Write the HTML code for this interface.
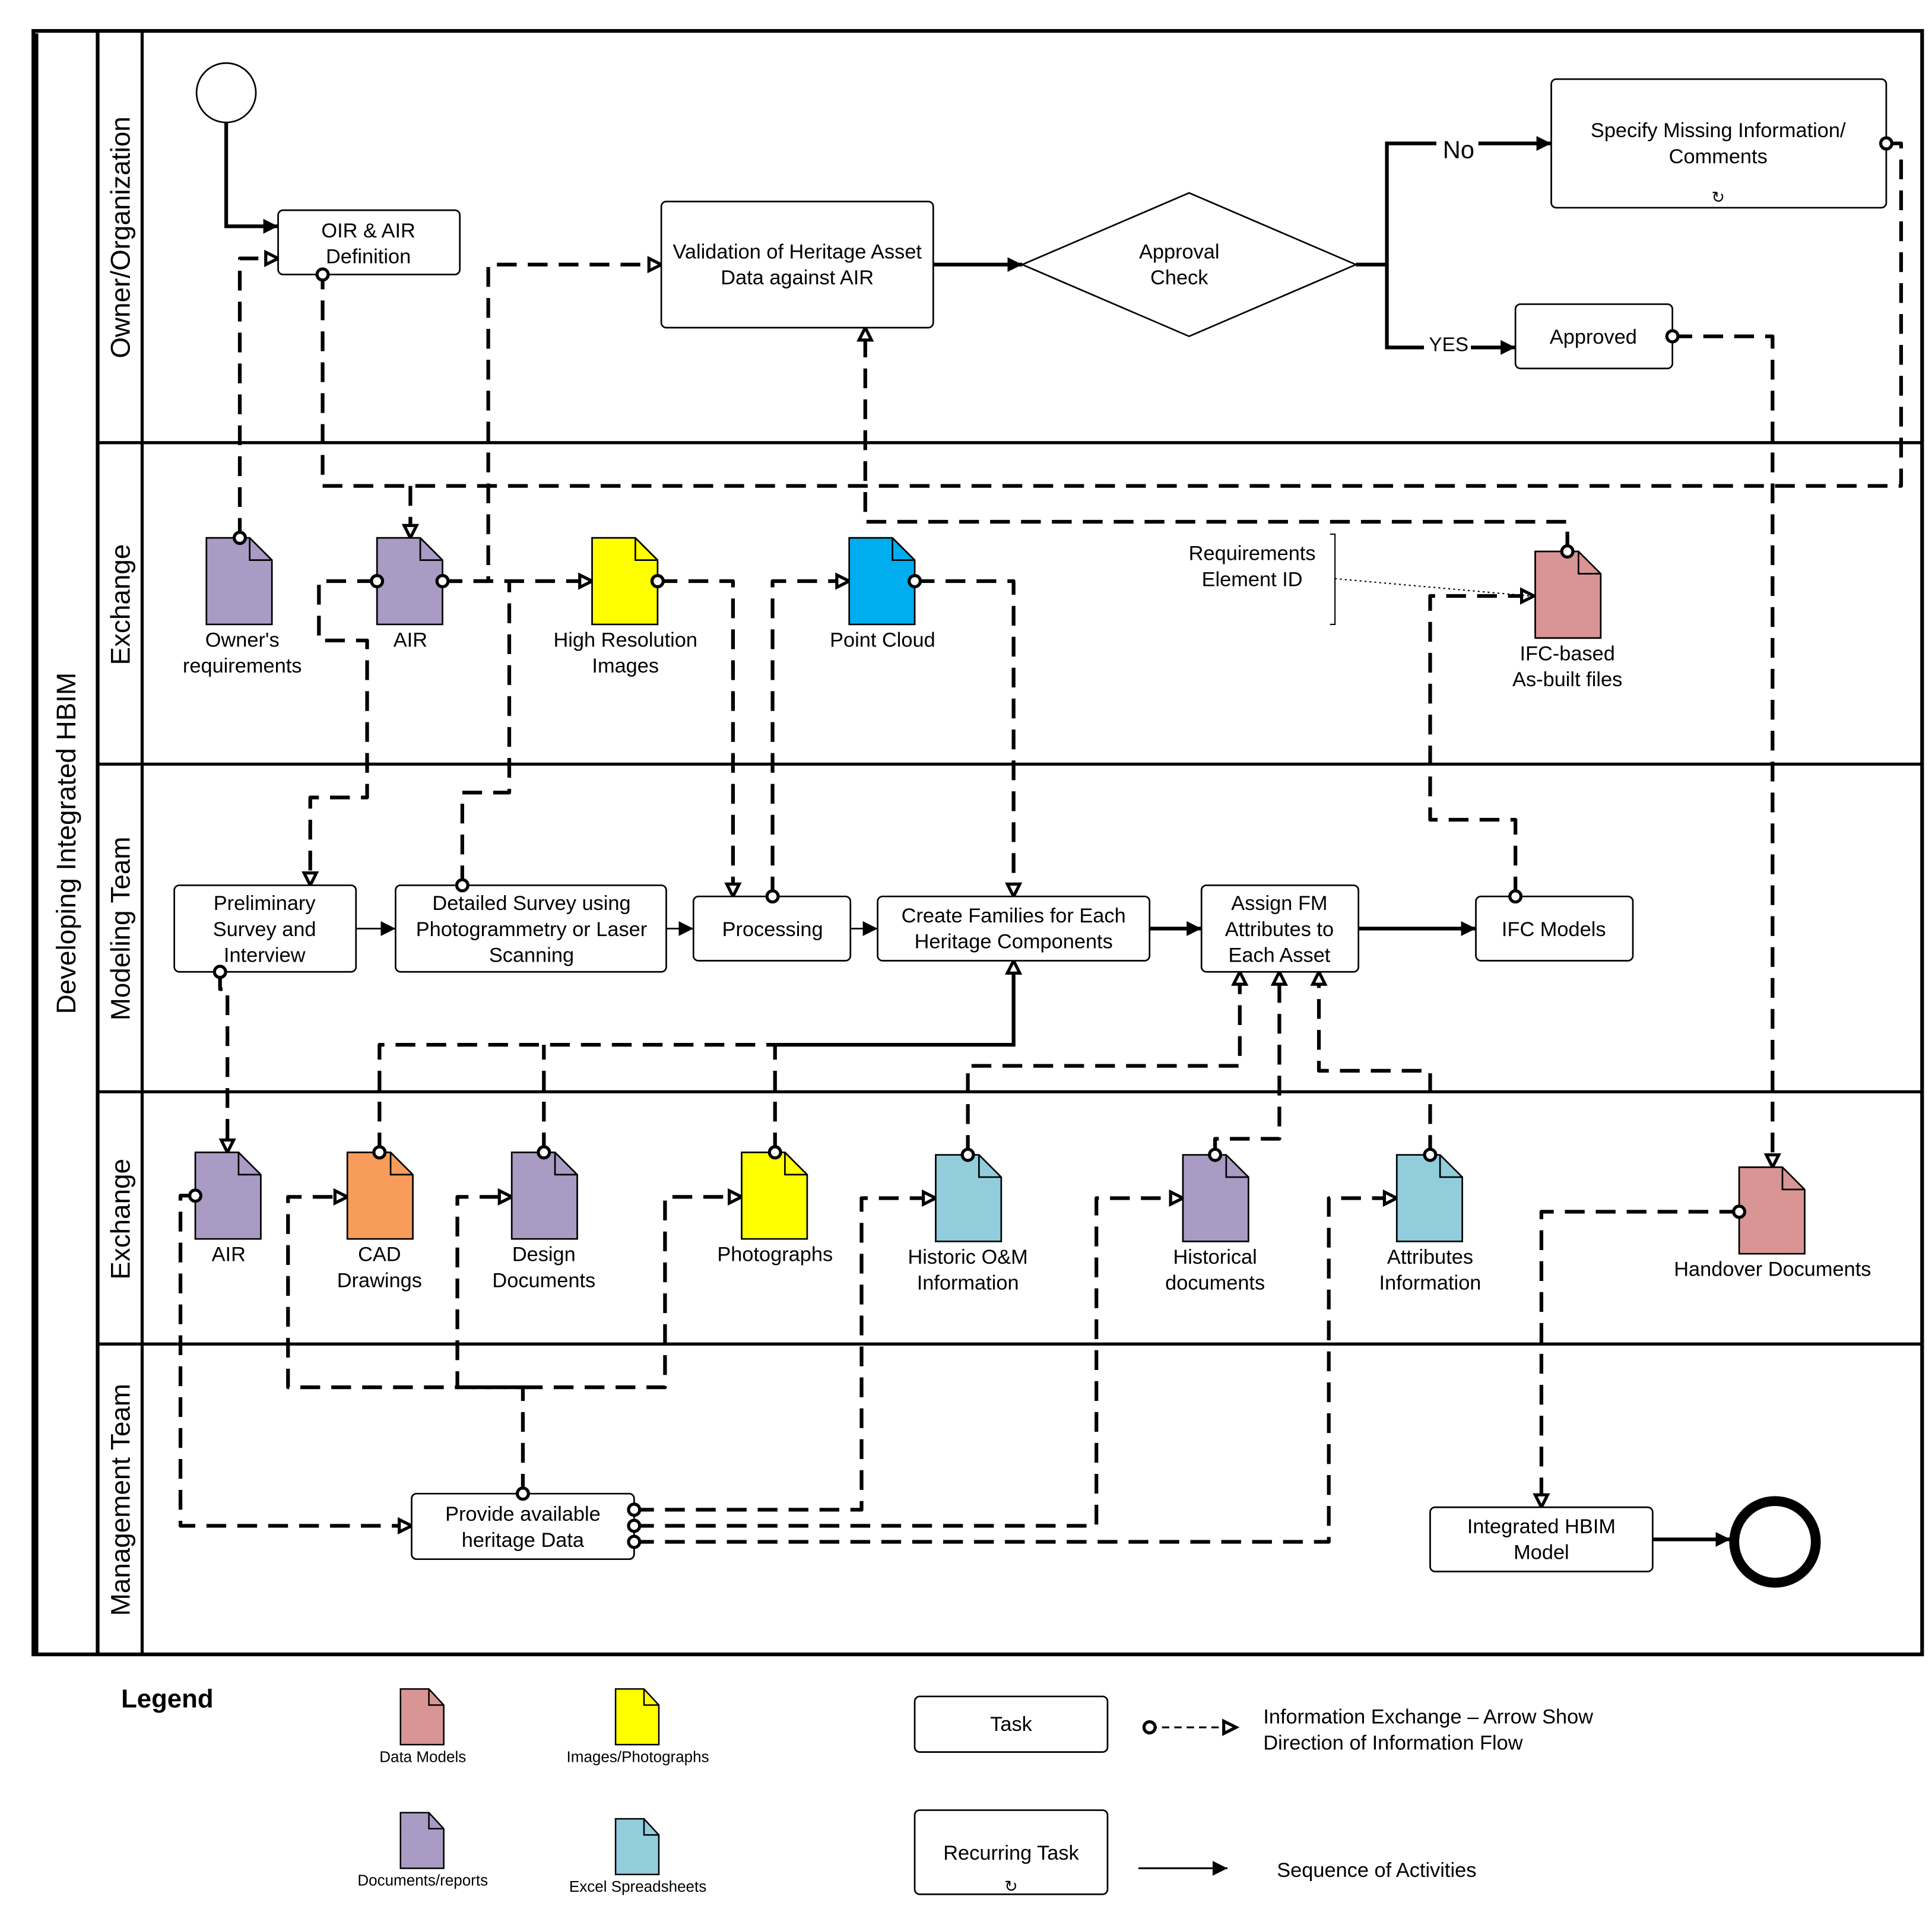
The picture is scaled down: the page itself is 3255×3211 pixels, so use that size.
<!DOCTYPE html>
<html><head><meta charset="utf-8">
<style>
html,body{margin:0;padding:0;background:#fff;}
svg{display:block;}
text{font-family:"Liberation Sans",Arial,sans-serif;fill:#000;}
</style></head>
<body>
<svg width="3255" height="3211" viewBox="0 0 1563 1541.5" preserveAspectRatio="none" xmlns="http://www.w3.org/2000/svg">
<defs>
<marker id="tri" markerUnits="userSpaceOnUse" markerWidth="16" markerHeight="16" refX="12" refY="7" orient="auto">
<path d="M2,2 L12,7 L2,12 Z" fill="#fff" stroke="#000" stroke-width="2.5"/>
</marker>
<marker id="arr" markerUnits="userSpaceOnUse" markerWidth="16" markerHeight="16" refX="12" refY="6" orient="auto">
<path d="M0,0 L12,6 L0,12 Z" fill="#000"/>
</marker>
<marker id="dot" markerUnits="userSpaceOnUse" markerWidth="14" markerHeight="14" refX="7" refY="7" orient="auto">
<circle cx="7" cy="7" r="4.5" fill="#fff" stroke="#000" stroke-width="2.5"/>
</marker>
<g id="doc"><path d="M0,0 H35 L53,18 V70 H0 Z" stroke="#000" stroke-width="1.3"/><path d="M35,0 V18 H53" fill="none" stroke="#000" stroke-width="1.3"/></g>
<g id="sdoc"><path d="M0,0 H23 L35,13 V45 H0 Z" stroke="#000" stroke-width="1.2"/><path d="M23,0 V13 H35" fill="none" stroke="#000" stroke-width="1.2"/></g>
</defs>

<!-- pool & lanes -->
<g fill="none" stroke="#000">
<rect x="27" y="25" width="1528" height="1313" stroke-width="3"/>
<line x1="79" y1="25" x2="79" y2="1338" stroke-width="3"/>
<line x1="115" y1="25" x2="115" y2="1338" stroke-width="2.5"/>
<line x1="79" y1="358" x2="1555" y2="358" stroke-width="2.5"/>
<line x1="79" y1="618" x2="1555" y2="618" stroke-width="2.5"/>
<line x1="79" y1="883" x2="1555" y2="883" stroke-width="2.5"/>
<line x1="79" y1="1087" x2="1555" y2="1087" stroke-width="2.5"/>
<line x1="29" y1="27" x2="29" y2="1338" stroke-width="4"/>
</g>
<g font-size="22">
<text transform="translate(61,682) rotate(-90)" text-anchor="middle">Developing Integrated HBIM</text>
<text transform="translate(105,192) rotate(-90)" text-anchor="middle">Owner/Organization</text>
<text transform="translate(105,489) rotate(-90)" text-anchor="middle">Exchange</text>
<text transform="translate(105,751) rotate(-90)" text-anchor="middle">Modeling Team</text>
<text transform="translate(105,986) rotate(-90)" text-anchor="middle">Exchange</text>
<text transform="translate(105,1213) rotate(-90)" text-anchor="middle">Management Team</text>
</g>

<!-- dashed connectors -->
<g fill="none" stroke="#000" stroke-width="3" stroke-dasharray="16 9" stroke-linejoin="round">
<path d="M194,435 V209 H225" marker-start="url(#dot)" marker-end="url(#tri)"/>
<path d="M1526,116 H1538 V393 H261 V222" marker-start="url(#dot)" marker-end="url(#dot)"/>
<path d="M332,393 V435" marker-end="url(#tri)"/>
<path d="M358,470 H395 V214 H535" marker-start="url(#dot)" marker-end="url(#tri)"/>
<path d="M358,470 H479" marker-end="url(#tri)"/>
<path d="M305,470 H258 V518 H297 V645 H251 V716" marker-start="url(#dot)" marker-end="url(#tri)"/>
<path d="M374,716 V641 H412 V470" marker-start="url(#dot)"/>
<path d="M532,470 H593 V725" marker-start="url(#dot)" marker-end="url(#tri)"/>
<path d="M625,725 V470 H687" marker-start="url(#dot)" marker-end="url(#tri)"/>
<path d="M740,470 H820 V725" marker-start="url(#dot)" marker-end="url(#tri)"/>
<path d="M1268,446 V422 H700 V265" marker-start="url(#dot)" marker-end="url(#tri)"/>
<path d="M1226,725 V663 H1157 V482 H1241" marker-start="url(#dot)" marker-end="url(#tri)"/>
<path d="M1353,272 H1434 V944" marker-start="url(#dot)" marker-end="url(#tri)"/>
<path d="M178,786 V800 H184 V932" marker-start="url(#dot)" marker-end="url(#tri)"/>
<path d="M307,932 V845 H628" marker-start="url(#dot)"/>
<path d="M440,932 V845" marker-start="url(#dot)"/>
<path d="M627,932 V845" marker-start="url(#dot)"/>
<path d="M783,934 V862 H1003 V786" marker-start="url(#dot)" marker-end="url(#tri)"/>
<path d="M983,934 V921 H1035 V786" marker-start="url(#dot)" marker-end="url(#tri)"/>
<path d="M1157,934 V866 H1067 V786" marker-start="url(#dot)" marker-end="url(#tri)"/>
<path d="M158,967 H146 V1234 H333" marker-start="url(#dot)" marker-end="url(#tri)"/>
<path d="M423,1208 V1122 H233 V968 H281" marker-start="url(#dot)" marker-end="url(#tri)"/>
<path d="M423,1122 H370 V968 H414" marker-end="url(#tri)"/>
<path d="M423,1122 H538 V968 H600" marker-end="url(#tri)"/>
<path d="M513,1221 H697 V969 H757" marker-start="url(#dot)" marker-end="url(#tri)"/>
<path d="M513,1234 H887 V969 H957" marker-start="url(#dot)" marker-end="url(#tri)"/>
<path d="M513,1247 H1075 V969 H1130" marker-start="url(#dot)" marker-end="url(#tri)"/>
<path d="M1407,980 H1247 V1219" marker-start="url(#dot)" marker-end="url(#tri)"/>
</g>
<path d="M628,845 H820 V777" fill="none" stroke="#000" stroke-width="3" marker-end="url(#tri)"/>
<line x1="1080" y1="468" x2="1238" y2="482" stroke="#000" stroke-width="1" stroke-dasharray="1.5 2.5"/>

<!-- solid flow -->
<g fill="none" stroke="#000" stroke-width="3">
<path d="M183,99 V183 H225" marker-end="url(#arr)"/>
<path d="M755,214 H827" marker-end="url(#arr)"/>
<path d="M1097,214 H1122 V116 H1255" marker-end="url(#arr)"/>
<path d="M1122,214 V281 H1226" marker-end="url(#arr)"/>
<path d="M930,751 H972" marker-end="url(#arr)"/>
<path d="M1099,751 H1194" marker-end="url(#arr)"/>
<path d="M1337,1245 H1400" marker-end="url(#arr)"/>
</g>
<g fill="none" stroke="#000" stroke-width="1.3">
<path d="M288,751 H320" marker-end="url(#arr)"/>
<path d="M539,751 H561" marker-end="url(#arr)"/>
<path d="M688,751 H710" marker-end="url(#arr)"/>
</g>
<rect x="1162" y="110" width="34" height="20" fill="#fff"/>
<text x="1180" y="128" font-size="20" text-anchor="middle">No</text>
<rect x="1152" y="270" width="38" height="16" fill="#fff"/>
<text x="1172" y="284" font-size="16" text-anchor="middle">YES</text>

<!-- shapes -->
<g fill="#fff" stroke="#000" stroke-width="1.3">
<circle cx="183" cy="75" r="24"/>
<rect x="225" y="170" width="147" height="52" rx="4"/>
<rect x="535" y="163" width="220" height="102" rx="4"/>
<polygon points="827,214 962,156 1097,214 962,272"/>
<rect x="1255" y="64" width="271" height="104" rx="4"/>
<rect x="1226" y="246" width="127" height="52" rx="4"/>
<rect x="141" y="716" width="147" height="70" rx="4"/>
<rect x="320" y="716" width="219" height="70" rx="4"/>
<rect x="561" y="725" width="127" height="52" rx="4"/>
<rect x="710" y="725" width="220" height="52" rx="4"/>
<rect x="972" y="716" width="127" height="70" rx="4"/>
<rect x="1194" y="725" width="127" height="52" rx="4"/>
<rect x="333" y="1208" width="180" height="53" rx="4"/>
<rect x="1157" y="1219" width="180" height="52" rx="4"/>
<rect x="740" y="1372" width="156" height="45" rx="4"/>
<rect x="740" y="1464" width="156" height="68" rx="4"/>
</g>
<circle cx="1436" cy="1247" r="33" fill="#fff" stroke="#000" stroke-width="8"/>
<path d="M1076,432 H1080 V505 H1076" fill="none" stroke="#000" stroke-width="1"/>

<!-- re-draw connector end dots over shapes -->
<g fill="#fff" stroke="#000" stroke-width="2.5">
<circle cx="261" cy="222" r="4.5"/><circle cx="1526" cy="116" r="4.5"/><circle cx="1353" cy="272" r="4.5"/>
<circle cx="178" cy="786" r="4.5"/><circle cx="374" cy="716" r="4.5"/><circle cx="625" cy="725" r="4.5"/>
<circle cx="1226" cy="725" r="4.5"/><circle cx="423" cy="1208" r="4.5"/>
<circle cx="513" cy="1221" r="4.5"/><circle cx="513" cy="1234" r="4.5"/><circle cx="513" cy="1247" r="4.5"/>
</g>

<!-- documents -->
<use href="#doc" x="167" y="435" fill="#a99bc3"/>
<use href="#doc" x="305" y="435" fill="#a99bc3"/>
<use href="#doc" x="479" y="435" fill="#ffff00"/>
<use href="#doc" x="687" y="435" fill="#00aeef"/>
<use href="#doc" x="1242" y="446" fill="#d99594"/>
<use href="#doc" x="158" y="932" fill="#a99bc3"/>
<use href="#doc" x="281" y="932" fill="#f79c5a"/>
<use href="#doc" x="414" y="932" fill="#a99bc3"/>
<use href="#doc" x="600" y="932" fill="#ffff00"/>
<use href="#doc" x="757" y="934" fill="#92cddc"/>
<use href="#doc" x="957" y="934" fill="#a99bc3"/>
<use href="#doc" x="1130" y="934" fill="#92cddc"/>
<use href="#doc" x="1407" y="944" fill="#d99594"/>
<g fill="#fff" stroke="#000" stroke-width="2.5">
<circle cx="194" cy="435" r="4.5"/><circle cx="305" cy="470" r="4.5"/><circle cx="358" cy="470" r="4.5"/>
<circle cx="532" cy="470" r="4.5"/><circle cx="740" cy="470" r="4.5"/><circle cx="1268" cy="446" r="4.5"/>
<circle cx="158" cy="967" r="4.5"/><circle cx="307" cy="932" r="4.5"/><circle cx="440" cy="932" r="4.5"/>
<circle cx="627" cy="932" r="4.5"/><circle cx="783" cy="934" r="4.5"/><circle cx="983" cy="934" r="4.5"/>
<circle cx="1157" cy="934" r="4.5"/><circle cx="1407" cy="980" r="4.5"/>
</g>

<!-- texts -->
<g font-size="16.5" text-anchor="middle">
<text x="298" y="192">OIR &amp; AIR</text><text x="298" y="213">Definition</text>
<text x="645" y="209">Validation of Heritage Asset</text><text x="645" y="230">Data against AIR</text>
<text x="954" y="209">Approval</text><text x="954" y="230">Check</text>
<text x="1390" y="111">Specify Missing Information/</text><text x="1390" y="132">Comments</text>
<text x="1289" y="278">Approved</text>
<text x="196" y="523">Owner's</text><text x="196" y="544">requirements</text>
<text x="332" y="523">AIR</text>
<text x="506" y="523">High Resolution</text><text x="506" y="544">Images</text>
<text x="714" y="523">Point Cloud</text>
<text x="1013" y="453">Requirements</text><text x="1013" y="474">Element ID</text>
<text x="1268" y="534">IFC-based</text><text x="1268" y="555">As-built files</text>
<text x="214" y="736">Preliminary</text><text x="214" y="757">Survey and</text><text x="214" y="778">Interview</text>
<text x="430" y="736">Detailed Survey using</text><text x="430" y="757">Photogrammetry or Laser</text><text x="430" y="778">Scanning</text>
<text x="625" y="757">Processing</text>
<text x="820" y="746">Create Families for Each</text><text x="820" y="767">Heritage Components</text>
<text x="1035" y="736">Assign FM</text><text x="1035" y="757">Attributes to</text><text x="1035" y="778">Each Asset</text>
<text x="1257" y="757">IFC Models</text>
<text x="185" y="1020">AIR</text>
<text x="307" y="1020">CAD</text><text x="307" y="1041">Drawings</text>
<text x="440" y="1020">Design</text><text x="440" y="1041">Documents</text>
<text x="627" y="1020">Photographs</text>
<text x="783" y="1022">Historic O&amp;M</text><text x="783" y="1043">Information</text>
<text x="983" y="1022">Historical</text><text x="983" y="1043">documents</text>
<text x="1157" y="1022">Attributes</text><text x="1157" y="1043">Information</text>
<text x="1434" y="1032">Handover  Documents</text>
<text x="423" y="1230">Provide available</text><text x="423" y="1251">heritage Data</text>
<text x="1247" y="1240">Integrated HBIM</text><text x="1247" y="1261">Model</text>
<text x="818" y="1400">Task</text>
<text x="818" y="1504">Recurring Task</text>
</g>
<text x="1390" y="164" font-size="13" text-anchor="middle">↻</text>
<text x="818" y="1530" font-size="13" text-anchor="middle">↻</text>

<!-- legend -->
<text x="98" y="1381" font-size="21" font-weight="bold">Legend</text>
<use href="#sdoc" x="324" y="1366" fill="#d99594"/>
<use href="#sdoc" x="498" y="1366" fill="#ffff00"/>
<use href="#sdoc" x="324" y="1466" fill="#a99bc3"/>
<use href="#sdoc" x="498" y="1471" fill="#92cddc"/>
<g font-size="12.5" text-anchor="middle">
<text x="342" y="1425">Data Models</text>
<text x="516" y="1425">Images/Photographs</text>
<text x="342" y="1525">Documents/reports</text>
<text x="516" y="1530">Excel Spreadsheets</text>
</g>
<path d="M930,1397 H1000" fill="none" stroke="#000" stroke-width="1.5" stroke-dasharray="6 4" marker-start="url(#dot)" marker-end="url(#tri)"/>
<text x="1022" y="1394" font-size="16.5">Information Exchange – Arrow Show</text>
<text x="1022" y="1415" font-size="16.5">Direction of Information Flow</text>
<path d="M921,1511 H993" fill="none" stroke="#000" stroke-width="1.5" marker-end="url(#arr)"/>
<text x="1033" y="1518" font-size="16.5">Sequence of Activities</text>
</svg>
</body></html>
